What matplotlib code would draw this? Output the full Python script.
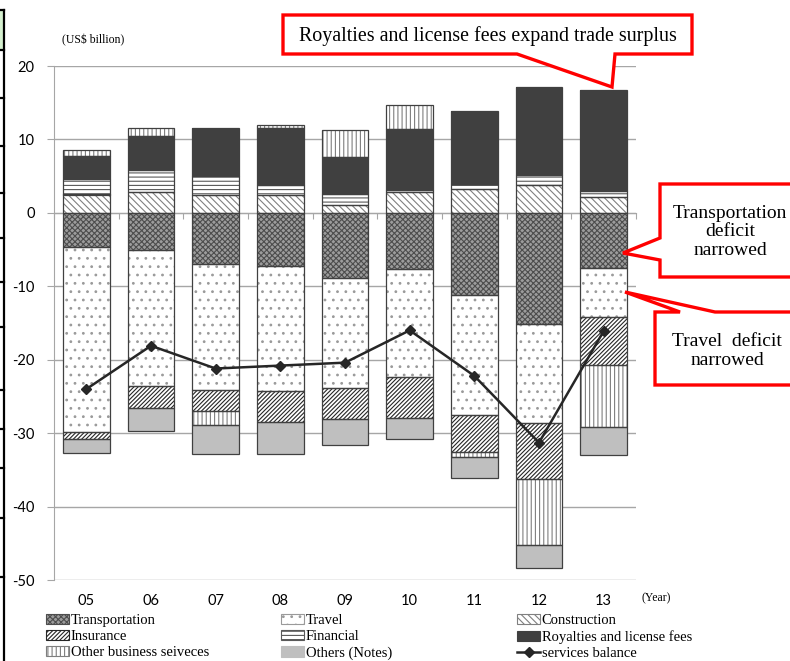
import matplotlib
matplotlib.use("Agg")
import matplotlib.pyplot as plt
from matplotlib.patches import Patch, Polygon, Rectangle
from matplotlib.lines import Line2D
import numpy as np

# ---------------- data (US$ billion) ----------------
years = ['05', '06', '07', '08', '09', '10', '11', '12', '13']

transportation = [-4.6, -5.1, -7.0, -7.2, -8.9, -7.6, -11.2, -15.2, -7.5]
travel = [-25.3, -18.5, -17.1, -17.0, -14.9, -14.8, -16.3, -13.4, -6.7]
construction = [2.5, 2.8, 2.4, 2.4, 1.1, 2.8, 3.2, 3.8, 2.2]
insurance = [-0.9, -3.0, -2.9, -4.3, -4.3, -5.6, -5.1, -7.7, -6.5]
financial = [2.1, 3.1, 2.6, 1.4, 1.5, 0.3, 0.7, 1.4, 0.8]
royalties = [3.2, 4.6, 6.6, 7.7, 5.0, 8.3, 10.0, 11.9, 13.7]
other_business = [0.8, 1.1, -1.9, 0.4, 3.7, 3.3, -0.6, -9.0, -8.4]
others = [-1.9, -3.1, -3.9, -4.3, -3.5, -2.8, -2.9, -3.0, -3.9]
services_balance = [-24.0, -18.1, -21.2, -20.8, -20.4, -16.0, -22.2, -31.3, -16.1]

# name, values, face colour, hatch, hatch colour
series = [
    ('Transportation', transportation, '#9c9c9c', 'xxxxxx', '#4d4d4d'),
    ('Travel', travel, 'white', '..', '#9a9a9a'),
    ('Construction', construction, 'white', '\\\\\\\\\\', '#808080'),
    ('Insurance', insurance, 'white', '////////', '#262626'),
    ('Financial', financial, 'white', '----', '#595959'),
    ('Royalties and license fees', royalties, '#404040', None, '#404040'),
    ('Other business seiveces', other_business, 'white', '||||', '#7f7f7f'),
    ('Others (Notes)', others, '#bfbfbf', None, '#bfbfbf'),
]

plt.rcParams['hatch.linewidth'] = 0.8
plt.rcParams['axes.unicode_minus'] = False
W, H = 790, 661
fig = plt.figure(figsize=(W / 100, H / 100), dpi=100)


def px(x, y):
    return (x / W, 1 - y / H)


ax = fig.add_axes([54 / W, 1 - 580 / H, (636 - 54) / W, (580 - 66) / H])

x = np.arange(len(years))
pos_base = np.zeros(len(years))
neg_base = np.zeros(len(years))
edge = '#404040'
bw = 0.72

for name, vals, face, hatch, hcol in series:
    vals = np.array(vals)
    bottoms = np.where(vals >= 0, pos_base, neg_base)
    ax.bar(x, vals, bw, bottom=bottoms, color=face, hatch=hatch,
           edgecolor=hcol, linewidth=0, zorder=2)
    ax.bar(x, vals, bw, bottom=bottoms, fill=False, edgecolor=edge,
           linewidth=0.9, zorder=3)
    pos_base = pos_base + np.where(vals >= 0, vals, 0)
    neg_base = neg_base + np.where(vals < 0, vals, 0)

ax.plot(x, services_balance, color='#262626', lw=1.8, marker='D', ms=5,
        zorder=5)

ax.set_xlim(-0.5, len(years) - 0.5)
ax.set_ylim(-50, 20)
ax.set_yticks(range(-50, 21, 10))
ax.yaxis.grid(True, color='#a6a6a6', lw=1)
ax.set_axisbelow(True)
for s in ['top', 'right']:
    ax.spines[s].set_visible(False)
ax.spines['left'].set_color('#a6a6a6')
ax.spines['bottom'].set_position(('data', 0))
ax.spines['bottom'].set_color('#a6a6a6')
ax.set_xticks(np.arange(-0.5, len(years), 1))
ax.set_xticklabels([])
ax.tick_params(axis='x', length=4, color='#a6a6a6', direction='out')
ax.tick_params(axis='y', length=5, color='#a6a6a6', pad=9, labelsize=10.5)
for lab in ax.get_yticklabels():
    lab.set_fontfamily('Lato')

# category labels sit at the bottom of the plot
for i, yr in enumerate(years):
    ax.text(i, -52.8, yr, ha='center', va='center', fontsize=10.5,
            family='Lato', clip_on=False)

serif = 'Liberation Serif'
fig.text(*px(62, 40), '(US$ billion)', fontsize=8.5, family=serif,
         va='center', ha='left')
fig.text(*px(641, 598), '(Year)', fontsize=8.5, family=serif,
         va='center', ha='left')

# legend in three fixed columns
handles = {}
for name, vals, face, hatch, hcol in series:
    handles[name] = Patch(facecolor=face, hatch=hatch, edgecolor=hcol, lw=0.8)
handles['services balance'] = Line2D([], [], color='#262626', lw=1.8,
                                     marker='D', ms=5)
columns = [
    ['Transportation', 'Insurance', 'Other business seiveces'],
    ['Travel', 'Financial', 'Others (Notes)'],
    ['Construction', 'Royalties and license fees', 'services balance'],
]
for cx, names in zip([46, 281, 517], columns):
    leg = fig.legend([handles[n] for n in names], names,
                     loc='upper left', bbox_to_anchor=px(cx, 614),
                     frameon=False, borderpad=0, borderaxespad=0,
                     handlelength=1.6, handleheight=0.7, handletextpad=0.1,
                     labelspacing=0.2, prop={'family': serif, 'size': 10.5})

# red callouts
red = '#ff0000'


def callout(points):
    poly = Polygon([px(a, b) for a, b in points], closed=True,
                   transform=fig.transFigure, facecolor='white',
                   edgecolor=red, lw=2.4, zorder=10, joinstyle='miter')
    fig.add_artist(poly)


callout([(283, 15), (692, 15), (692, 54), (615, 54), (612, 87),
         (517, 54), (283, 54)])
fig.text(*px(488, 36), 'Royalties and license fees expand trade surplus',
         ha='center', va='center', fontsize=14.4, family=serif, zorder=11)

callout([(660, 184), (800, 184), (800, 277), (660, 277), (660, 260),
         (623, 253), (660, 238)])
fig.text(*px(730, 232), 'Transportation\ndeficit\nnarrowed', ha='center',
         va='center', fontsize=14, family=serif, linespacing=1.15, zorder=11)

callout([(655, 312), (680, 312), (625, 292), (715, 312), (800, 312),
         (800, 385), (655, 385)])
fig.text(*px(727, 351), 'Travel  deficit\nnarrowed', ha='center',
         va='center', fontsize=14, family=serif, linespacing=1.15, zorder=11)

# table border on the left edge
fig.add_artist(Rectangle(px(0, 50), 3 / W, 40 / H, transform=fig.transFigure,
                         facecolor='#d5f0cf', edgecolor='none'))
fig.add_artist(Line2D([4 / W, 4 / W], [0, 1 - 10 / H], color='black', lw=1.6,
                      transform=fig.transFigure))
for yy in [10, 50, 98, 146, 193, 238, 282, 327, 390, 429, 468, 518, 577]:
    fig.add_artist(Line2D([0, 4 / W], [1 - yy / H] * 2, color='black',
                          lw=1.6, transform=fig.transFigure))

fig.savefig('out.png', dpi=100)
